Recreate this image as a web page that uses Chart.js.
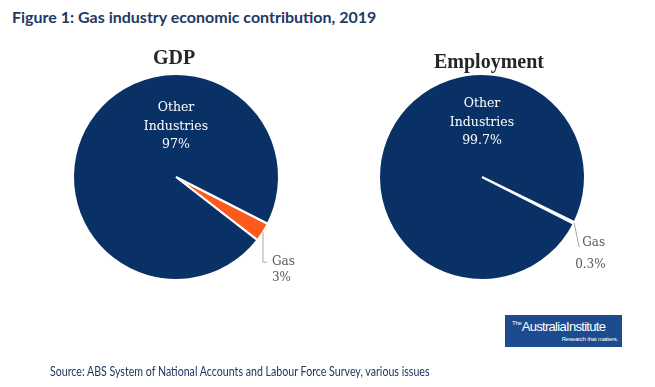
<!DOCTYPE html>
<html lang="en">
<head>
    <meta charset="UTF-8">
    <title>Gas industry economic contribution, 2019</title>
    <script src="https://cdn.jsdelivr.net/npm/chart.js"></script>
    <style>
        body { margin: 0; background: #fff; }
        #wrap { position: relative; width: 655px; height: 387px; overflow: hidden; }
        canvas { position: absolute; top: 0; }
        .txt { position: absolute; white-space: nowrap; }
        #title { left: 12px; top: 7px; font: bold 16px Lato, sans-serif; color: #1f3864; }
        .pieTitle { font: bold 20px "Liberation Serif", serif; color: #262626; transform: translateX(-50%); }
        #source { left: 50px; top: 364px; font: 12.5px Lato, sans-serif; color: #1f3864; transform: scaleX(0.85); transform-origin: 0 0; }
        #logo { left: 505px; top: 315px; width: 117px; height: 32px; background: #1d4b8f; color: #fff; font-family: "Liberation Sans", sans-serif; }
        #logo .name { position: absolute; left: 7px; top: 4px; font-size: 13px; letter-spacing: -0.7px; }
        #logo .name sup { font-size: 6px; vertical-align: 6px; letter-spacing: -0.2px; }
        #logo .tag { position: absolute; right: 4px; top: 21px; font-size: 6px; letter-spacing: -0.2px; }
    </style>
</head>
<body>
<div id="wrap">
    <div id="title" class="txt">Figure 1: Gas industry economic contribution, 2019</div>
    <canvas id="gdpChart" width="327" height="387" style="left:0"></canvas>
    <canvas id="empChart" width="328" height="387" style="left:327px"></canvas>
    <div id="gdpTitle" class="txt pieTitle" style="left:174px; top:46px">GDP</div>
    <div id="empTitle" class="txt pieTitle" style="left:489px; top:50px">Employment</div>
    <div id="logo" class="txt"><span class="name"><sup>The</sup>AustraliaInstitute</span><span class="tag">Research that matters.</span></div>
    <div id="source" class="txt">Source: ABS System of National Accounts and Labour Force Survey, various issues</div>
</div>
<script>
    const pieTitles = ['GDP', 'Employment'];
    const categories = ['Gas', 'Other Industries'];
    const gdpShares = [3, 97];
    const employmentShares = [0.3, 99.7];

    document.getElementById('gdpTitle').textContent = pieTitles[0];
    document.getElementById('empTitle').textContent = pieTitles[1];

    const sliceLabels = {
        id: 'sliceLabels',
        afterDatasetsDraw(chart, args, opts) {
            const ctx = chart.ctx;
            const meta = chart.getDatasetMeta(0);
            const values = chart.data.datasets[0].data;
            const gas = meta.data[0], other = meta.data[1];
            ctx.save();
            ctx.textBaseline = 'middle';

            // label inside the big slice
            ctx.font = '12.5px "DejaVu Serif", serif';
            ctx.fillStyle = '#fff';
            ctx.textAlign = 'center';
            const lines = ['Other', 'Industries', values[1] + '%'];
            lines.forEach((t, i) => ctx.fillText(t, other.x, other.y + opts.innerTop + i * 18.5));

            // leader line + label for the gas slice
            const mid = (gas.startAngle + gas.endAngle) / 2;
            const px = gas.x + Math.cos(mid) * gas.outerRadius;
            const py = gas.y + Math.sin(mid) * gas.outerRadius;
            ctx.strokeStyle = '#a6a6a6';
            ctx.lineWidth = 1;
            ctx.beginPath();
            ctx.moveTo(px, py);
            opts.leader.forEach(p => ctx.lineTo(px + p[0], py + p[1]));
            ctx.stroke();
            ctx.font = '12px "DejaVu Serif", serif';
            ctx.fillStyle = '#595959';
            ctx.textAlign = 'left';
            ctx.fillText('Gas', px + opts.nameAt[0], py + opts.nameAt[1]);
            ctx.fillText(values[0] + '%', px + opts.valueAt[0], py + opts.valueAt[1]);
            ctx.restore();
        }
    };

    function createPie(id, values, gasColor, rotation, padding, labelOpts) {
        return new Chart(document.getElementById(id), {
            type: 'pie',
            data: {
                labels: categories,
                datasets: [{
                    data: values,
                    backgroundColor: [gasColor, '#0a3166'],
                    borderColor: '#fff',
                    borderWidth: 2
                }]
            },
            options: {
                responsive: false,
                animation: false,
                rotation: rotation,
                layout: { padding: padding },
                plugins: {
                    legend: { display: false },
                    tooltip: { enabled: false },
                    sliceLabels: labelOpts
                }
            },
            plugins: [sliceLabels]
        });
    }

    createPie('gdpChart', gdpShares, '#fd5a1e', 117,
        { left: 72, top: 73, right: 47, bottom: 106 },
        { innerTop: -69, leader: [[0, 30], [4, 30]], nameAt: [9, 29.5], valueAt: [9, 46] });

    createPie('empChart', employmentShares, '#ffffff', 116,
        { left: 51, top: 73, right: 69, bottom: 106 },
        { innerTop: -73, leader: [[5, 24]], nameAt: [8, 20], valueAt: [1, 42] });
</script>
</body>
</html>
